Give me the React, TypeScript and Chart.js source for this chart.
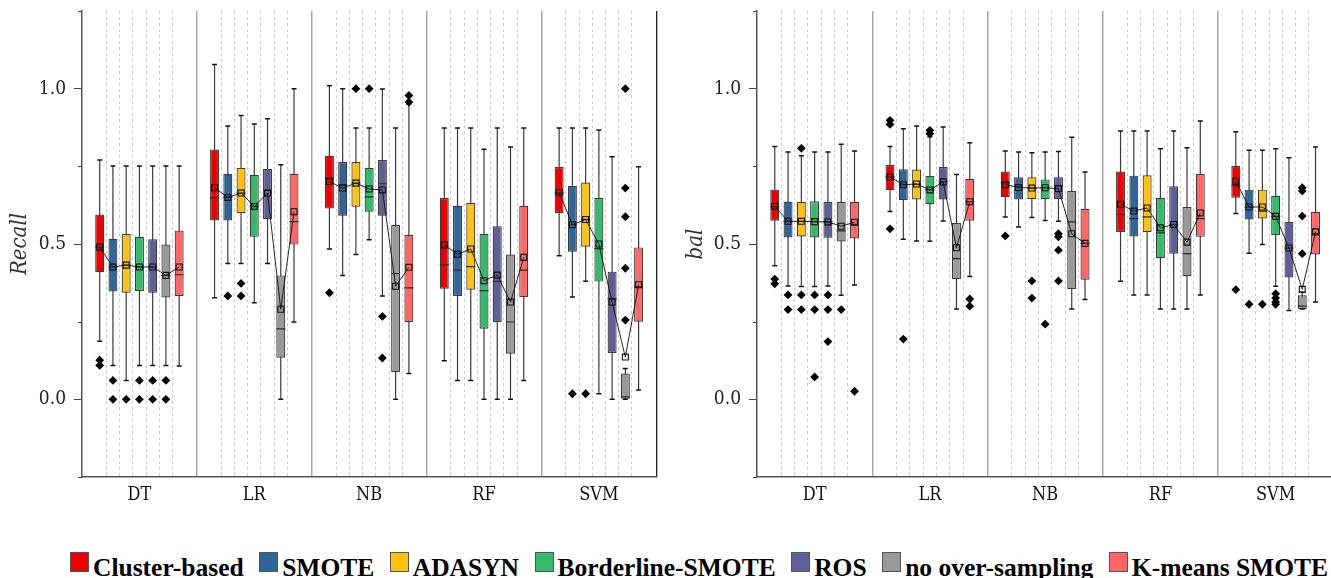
import React, { useEffect, useRef } from 'react';
import { Chart, registerables } from 'chart.js';

Chart.register(...registerables);

const groups = ['DT', 'LR', 'NB', 'RF', 'SVM'];
const methods = ['Cluster-based', 'SMOTE', 'ADASYN', 'Borderline-SMOTE', 'ROS', 'no over-sampling', 'K-means SMOTE'];
const methodColors = ['#EE0000', '#30659A', '#FFC20E', '#33BB69', '#5F5F97', '#999999', '#FF6666'];
const majorTicks = [0, 0.5, 1];
const minorTicks = [-0.25, 0.25, 0.75, 1.25];

// rows: DT, LR, NB, RF, SVM ; columns: methods
const recallLow = [
  [0.187, 0.109, 0.061, 0.109, 0.109, 0.109, 0.107],
  [0.327, 0.437, 0.437, 0.311, 0.437, 0.0, 0.249],
  [0.484, 0.399, 0.466, 0.514, 0.333, 0.0, 0.083],
  [0.124, 0.061, 0.061, 0.0, 0.0, 0.0, 0.061],
  [0.462, 0.329, 0.38, 0.018, 0.0, 0.0, 0.03],
];
const recallQ1 = [
  [0.409, 0.347, 0.343, 0.349, 0.343, 0.328, 0.333],
  [0.576, 0.576, 0.599, 0.523, 0.58, 0.134, 0.498],
  [0.614, 0.591, 0.62, 0.604, 0.591, 0.087, 0.249],
  [0.356, 0.333, 0.353, 0.227, 0.249, 0.147, 0.329],
  [0.6, 0.475, 0.491, 0.379, 0.149, 0.0, 0.25],
];
const recallMedian = [
  [0.49, 0.426, 0.432, 0.426, 0.426, 0.399, 0.401],
  [0.649, 0.65, 0.664, 0.62, 0.673, 0.227, 0.572],
  [0.712, 0.691, 0.696, 0.652, 0.694, 0.405, 0.359],
  [0.433, 0.416, 0.427, 0.35, 0.38, 0.249, 0.416],
  [0.664, 0.562, 0.579, 0.485, 0.324, 0.008, 0.362],
];
const recallQ3 = [
  [0.595, 0.517, 0.532, 0.523, 0.515, 0.498, 0.543],
  [0.804, 0.726, 0.745, 0.723, 0.742, 0.399, 0.726],
  [0.784, 0.764, 0.764, 0.745, 0.77, 0.561, 0.529],
  [0.648, 0.623, 0.632, 0.532, 0.557, 0.466, 0.623],
  [0.748, 0.687, 0.698, 0.648, 0.411, 0.083, 0.489],
];
const recallHigh = [
  [0.77, 0.751, 0.751, 0.751, 0.751, 0.751, 0.751],
  [1.078, 0.88, 0.914, 0.886, 0.903, 0.755, 1.0],
  [1.009, 1.0, 0.873, 0.873, 0.999, 0.873, 0.95],
  [0.873, 0.873, 0.873, 0.805, 0.873, 0.812, 0.873],
  [0.873, 0.873, 0.873, 0.867, 0.781, 0.099, 0.749],
];
const recallMean = [
  [0.49, 0.426, 0.432, 0.426, 0.426, 0.399, 0.426],
  [0.681, 0.65, 0.664, 0.621, 0.664, 0.29, 0.604],
  [0.701, 0.68, 0.696, 0.677, 0.674, 0.364, 0.425],
  [0.497, 0.467, 0.484, 0.382, 0.4, 0.313, 0.457],
  [0.666, 0.562, 0.579, 0.5, 0.313, 0.136, 0.369],
];
// [group, method, value]
const recallOutliers = [
  [0, 0, 0.126], [0, 0, 0.109], [0, 1, 0.061], [0, 1, 0], [0, 2, 0], [0, 3, 0.061], [0, 3, 0],
  [0, 4, 0.061], [0, 4, 0], [0, 5, 0.061], [0, 5, 0],
  [1, 1, 0.333], [1, 2, 0.373], [1, 2, 0.333],
  [2, 0, 0.343], [2, 2, 1.0], [2, 3, 1.0], [2, 4, 0.267], [2, 4, 0.133], [2, 6, 0.978], [2, 6, 0.957],
  [4, 1, 0.018], [4, 2, 0.018], [4, 5, 1.0], [4, 5, 0.68], [4, 5, 0.588], [4, 5, 0.422], [4, 5, 0.255],
];

const balLow = [
  [0.43, 0.365, 0.363, 0.363, 0.365, 0.335, 0.368],
  [0.605, 0.515, 0.51, 0.509, 0.574, 0.291, 0.395],
  [0.587, 0.555, 0.585, 0.576, 0.573, 0.291, 0.321],
  [0.38, 0.336, 0.336, 0.291, 0.291, 0.291, 0.336],
  [0.598, 0.47, 0.498, 0.364, 0.286, 0.291, 0.313],
];
const balQ1 = [
  [0.575, 0.521, 0.524, 0.521, 0.52, 0.508, 0.518],
  [0.673, 0.641, 0.643, 0.628, 0.643, 0.387, 0.575],
  [0.651, 0.643, 0.645, 0.644, 0.644, 0.355, 0.385],
  [0.539, 0.524, 0.539, 0.454, 0.469, 0.396, 0.523],
  [0.649, 0.579, 0.582, 0.529, 0.392, 0.291, 0.466],
];
const balMedian = [
  [0.62, 0.573, 0.573, 0.572, 0.571, 0.542, 0.563],
  [0.716, 0.691, 0.693, 0.674, 0.7, 0.453, 0.636],
  [0.697, 0.686, 0.68, 0.681, 0.686, 0.571, 0.502],
  [0.595, 0.582, 0.587, 0.536, 0.563, 0.469, 0.582],
  [0.687, 0.619, 0.606, 0.589, 0.487, 0.3, 0.533],
];
const balQ3 = [
  [0.675, 0.636, 0.635, 0.638, 0.635, 0.636, 0.636],
  [0.754, 0.741, 0.74, 0.719, 0.748, 0.568, 0.71],
  [0.733, 0.715, 0.715, 0.708, 0.715, 0.671, 0.613],
  [0.733, 0.72, 0.721, 0.649, 0.686, 0.619, 0.726],
  [0.751, 0.675, 0.675, 0.655, 0.571, 0.335, 0.604],
];
const balHigh = [
  [0.814, 0.796, 0.784, 0.796, 0.796, 0.821, 0.799],
  [0.814, 0.871, 0.88, 0.845, 0.877, 0.724, 0.826],
  [0.799, 0.796, 0.794, 0.796, 0.798, 0.844, 0.732],
  [0.864, 0.864, 0.864, 0.807, 0.864, 0.81, 0.896],
  [0.861, 0.802, 0.802, 0.807, 0.778, 0.345, 0.812],
];
const balMean = [
  [0.621, 0.573, 0.573, 0.572, 0.571, 0.557, 0.57],
  [0.716, 0.691, 0.693, 0.674, 0.7, 0.488, 0.636],
  [0.691, 0.682, 0.68, 0.681, 0.678, 0.533, 0.502],
  [0.628, 0.606, 0.616, 0.552, 0.563, 0.506, 0.6],
  [0.702, 0.619, 0.619, 0.589, 0.487, 0.354, 0.539],
];
const balOutliers = [
  [0, 0, 0.387], [0, 0, 0.372], [0, 1, 0.336], [0, 1, 0.289], [0, 2, 0.808], [0, 2, 0.336], [0, 2, 0.289],
  [0, 3, 0.336], [0, 3, 0.289], [0, 3, 0.072], [0, 4, 0.336], [0, 4, 0.289], [0, 4, 0.186], [0, 5, 0.289], [0, 6, 0.026],
  [1, 0, 0.898], [1, 0, 0.885], [1, 0, 0.549], [1, 1, 0.194], [1, 3, 0.866], [1, 3, 0.855], [1, 6, 0.323], [1, 6, 0.3],
  [2, 0, 0.526], [2, 2, 0.381], [2, 2, 0.326], [2, 3, 0.242], [2, 4, 0.533], [2, 4, 0.523], [2, 4, 0.48], [2, 4, 0.381],
  [4, 0, 0.353], [4, 1, 0.306], [4, 2, 0.306], [4, 3, 0.34], [4, 3, 0.326], [4, 3, 0.313], [4, 3, 0.306],
  [4, 5, 0.681], [4, 5, 0.671], [4, 5, 0.59], [4, 5, 0.469],
];

// layout constants (not data)
const SLOT = 0.1153; // horizontal distance between neighbouring boxes, in group units
const posOf = (g: number, j: number) => g + 0.5 + (j - 3) * SLOT;
const AXIS_FONT = '"DejaVu Serif Condensed", "DejaVu Serif", serif';

const minorTickPlugin = {
  id: 'minorTicks',
  afterDraw(chart: any) {
    const y = chart.scales.y;
    const ctx = chart.ctx;
    const left = chart.chartArea.left;
    ctx.save();
    ctx.strokeStyle = '#444';
    ctx.lineWidth = 1;
    minorTicks.forEach((v) => {
      const py = Math.round(y.getPixelForValue(v)) + 0.5;
      ctx.beginPath();
      ctx.moveTo(left - 4, py);
      ctx.lineTo(left, py);
      ctx.stroke();
    });
    ctx.restore();
  },
};

function makeConfig(
  low: number[][], q1: number[][], med: number[][], q3: number[][], high: number[][], mean: number[][],
  outliers: number[][], title: string, titlePad: number,
): any {
  const datasets: any[] = [];
  const whisk: any[] = [];
  const caps: any[] = [];
  const meds: any[] = [];
  const means: any[] = [];
  groups.forEach((_, g) => {
    methods.forEach((__, j) => {
      const x = posOf(g, j);
      whisk.push({ x, y: [low[g][j], high[g][j]] });
      caps.push({ x, y: low[g][j] }, { x, y: high[g][j] });
      meds.push({ x, y: med[g][j] });
      means.push({ x, y: mean[g][j] });
    });
    means.push({ x: g + 1, y: null });
  });
  datasets.push({
    type: 'bar', data: whisk, backgroundColor: '#3a3a3a', borderWidth: 0,
    grouped: false, maxBarThickness: 1.2, order: 10,
  });
  methods.forEach((m, j) => {
    datasets.push({
      type: 'bar', label: m,
      data: groups.map((_, g) => ({ x: posOf(g, j), y: [q1[g][j], q3[g][j]] })),
      backgroundColor: methodColors[j], borderColor: '#3c3c3c', borderWidth: 1.2,
      borderSkipped: false, grouped: false, maxBarThickness: 9, order: 8,
    });
  });
  datasets.push({
    type: 'scatter', data: caps, pointStyle: 'line', pointRadius: 2.5,
    pointBorderColor: '#111', pointBorderWidth: 1.5, showLine: false, order: 7,
  });
  datasets.push({
    type: 'scatter', data: meds, pointStyle: 'line', pointRadius: 4.5,
    pointBorderColor: '#2a2a2a', pointBorderWidth: 1.2, showLine: false, order: 6,
  });
  datasets.push({
    type: 'scatter', data: means, showLine: true, spanGaps: false,
    borderColor: '#111', borderWidth: 0.9, pointStyle: 'rect', pointRadius: 4.2,
    pointBackgroundColor: 'rgba(0,0,0,0)', pointBorderColor: '#111', pointBorderWidth: 1.1, order: 5,
  });
  datasets.push({
    type: 'scatter', data: outliers.map(([g, j, v]) => ({ x: posOf(g, j), y: v })),
    pointStyle: 'rectRot', pointRadius: 4.4, pointBackgroundColor: '#000',
    pointBorderColor: '#000', pointBorderWidth: 0, showLine: false, order: 4,
  });

  const dotted: number[] = [];
  groups.forEach((_, g) => {
    for (let k = 0; k < 6; k++) dotted.push(g + 0.5 + (k - 2.5) * SLOT);
  });

  return {
    type: 'scatter',
    data: { datasets },
    plugins: [minorTickPlugin],
    options: {
      responsive: false,
      animation: false,
      devicePixelRatio: 1,
      layout: { padding: { top: 11, right: 2, left: 0, bottom: 0 } },
      plugins: { legend: { display: false }, tooltip: { enabled: false } },
      scales: {
        x: {
          type: 'linear', position: 'bottom', min: 0, max: 5, offset: false,
          afterBuildTicks: (s: any) => {
            const t: any[] = [];
            for (let i = 0; i <= 10; i++) t.push({ value: i / 2 });
            s.ticks = t;
          },
          afterFit: (s: any) => { s.height = 43; s.paddingLeft = 0; s.paddingRight = 0; },
          ticks: {
            autoSkip: false, maxRotation: 0, padding: 8, color: '#111',
            font: { family: AXIS_FONT, size: 18 },
            callback: (v: number) => (Number.isInteger(v) ? '' : groups[Math.floor(v)]),
          },
          grid: {
            offset: false,
            drawTicks: false,
            color: (c: any) => {
              const v = c.tick ? c.tick.value : 0;
              if (v === 5) return '#222';
              if (v === 0 || !Number.isInteger(v)) return 'rgba(0,0,0,0)';
              return '#a8a8a8';
            },
            lineWidth: (c: any) => (c.tick && c.tick.value === 5 ? 1.3 : 1.5),
          },
          border: { display: true, color: '#555', width: 1.5 },
        },
        x2: {
          type: 'linear', position: 'bottom', min: 0, max: 5, offset: false,
          afterBuildTicks: (s: any) => { s.ticks = dotted.map((v) => ({ value: v })); },
          afterFit: (s: any) => { s.height = 0; s.paddingLeft = 0; s.paddingRight = 0; },
          ticks: { display: false },
          grid: { offset: false, drawTicks: false, color: '#cccccc', lineWidth: 1 },
          border: { display: false, dash: [3, 3] },
        },
        y: {
          type: 'linear', position: 'left', min: -0.25, max: 1.25,
          afterBuildTicks: (s: any) => { s.ticks = majorTicks.map((v) => ({ value: v })); },
          afterFit: (s: any) => { s.width = 82; s.paddingTop = 0; s.paddingBottom = 0; },
          ticks: {
            padding: 8, color: '#222', font: { family: AXIS_FONT, size: 19 },
            callback: (v: number) => v.toFixed(1),
          },
          grid: { drawOnChartArea: false, tickLength: 8, tickColor: '#444', tickWidth: 1 },
          border: { display: true, color: '#555', width: 1.5 },
          title: {
            display: true, text: title, color: '#333',
            font: { family: AXIS_FONT, size: 22, style: 'italic' },
            padding: { top: titlePad, bottom: 0 },
          },
        },
      },
    },
  };
}

export default function App() {
  const leftRef = useRef<HTMLCanvasElement>(null);
  const rightRef = useRef<HTMLCanvasElement>(null);

  useEffect(() => {
    const c1 = new Chart(leftRef.current as HTMLCanvasElement, makeConfig(
      recallLow, recallQ1, recallMedian, recallQ3, recallHigh, recallMean, recallOutliers, 'Recall', 7));
    const c2 = new Chart(rightRef.current as HTMLCanvasElement, makeConfig(
      balLow, balQ1, balMedian, balQ3, balHigh, balMean, balOutliers, 'bal', 8));
    return () => { c1.destroy(); c2.destroy(); };
  }, []);

  return (
    <div style={{ position: 'fixed', left: 0, top: 0, width: 1331, height: 578, overflow: 'hidden', background: '#fff' }}>
      <canvas ref={leftRef} width={662} height={520} style={{ position: 'absolute', left: 0, top: 0 }} />
      <canvas ref={rightRef} width={664} height={520} style={{ position: 'absolute', left: 675, top: 0 }} />
      <div
        style={{
          position: 'absolute', left: 70, top: 552, display: 'flex', alignItems: 'baseline', gap: 15.5,
          whiteSpace: 'nowrap', fontFamily: '"Liberation Serif", "Times New Roman", serif',
          fontWeight: 'bold', fontSize: '25.5px', lineHeight: '29px', color: '#000',
        }}
      >
        {methods.map((m, i) => (
          <span key={m}>
            <span
              style={{
                display: 'inline-block', width: 19, height: 20, boxSizing: 'border-box',
                background: methodColors[i], border: '1.5px solid #555', verticalAlign: '4px', marginRight: 4,
              }}
            />
            {m}
          </span>
        ))}
      </div>
    </div>
  );
}
